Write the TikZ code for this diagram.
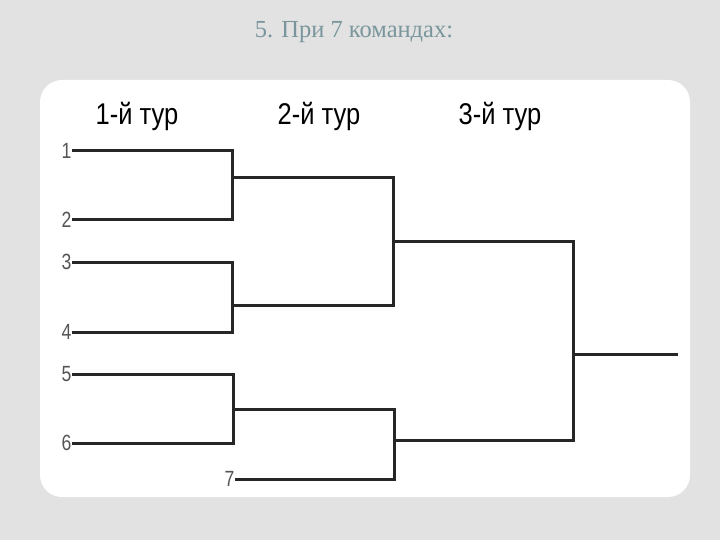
\documentclass[tikz,border=0pt]{standalone}
\usepackage{fontspec}
\setmainfont{Liberation Serif}
\setsansfont{Liberation Sans}
\usepackage{xcolor}
\definecolor{slidebg}{HTML}{E2E2E2}
\definecolor{titlecol}{HTML}{7A969C}
\definecolor{teamcol}{HTML}{555555}
\begin{document}
\begin{tikzpicture}[x=1pt,y=-1pt,
    team/.style={anchor=east,inner sep=0.5pt,text=teamcol,font=\sffamily\fontsize{22}{22}\selectfont,xscale=0.8},
    round/.style={inner sep=0pt,font=\sffamily\fontsize{30}{30}\selectfont,xscale=0.85},
    bracket/.style={line width=3pt,draw=black!85,line join=miter}]
            \fill[slidebg] (0,0) rectangle (720,540);
            \fill[white,rounded corners=22pt] (40,80) rectangle (690,497);
            \node (title) at (354,32) [text=titlecol,font=\fontsize{24.5}{24.5}\selectfont] {5. При 7 командах:};

            \node (r1) at (137,116) [round] {1-й тур};
            \node (r2) at (319,116) [round] {2-й тур};
            \node (r3) at (500,116) [round] {3-й тур};

            \coordinate (t1) at (72,151);
            \coordinate (t2) at (72,220);
            \coordinate (t3) at (72,262);
            \coordinate (t4) at (72,332);
            \coordinate (t5) at (72,374);
            \coordinate (t6) at (72,443);
            \coordinate (t7) at (235,479);
            \foreach \i in {1,...,7} {
                \node (n\i) at (t\i) [team] {\i};
            }

            \coordinate (a1) at (232,151);
            \coordinate (a2) at (232,220);
            \coordinate (a3) at (232,262);
            \coordinate (a4) at (232,332);
            \coordinate (a5) at (233,374);
            \coordinate (a6) at (233,443);
            \coordinate (m12) at (232,178);
            \coordinate (m34) at (232,305);
            \coordinate (m56) at (233,409);
            \coordinate (b12) at (393,178);
            \coordinate (b34) at (393,305);
            \coordinate (b56) at (394,409);
            \coordinate (b7) at (394,479);
            \coordinate (s1) at (393,241);
            \coordinate (s2) at (394,440);
            \coordinate (c1) at (573,241);
            \coordinate (c2) at (573,440);
            \coordinate (f) at (573,354);
            \coordinate (w) at (678,354);

            \draw[bracket] (t1) -- (a1) -- (a2) -- (t2) (t3) -- (a3) -- (a4) -- (t4) (t5) -- (a5) -- (a6) -- (t6)
            (m12) -- (b12) -- (b34) -- (m34) (m56) -- (b56) -- (b7) -- (t7)
            (s1) -- (c1) -- (c2) -- (s2) (f) -- (w);
        \end{tikzpicture}
\end{document}
